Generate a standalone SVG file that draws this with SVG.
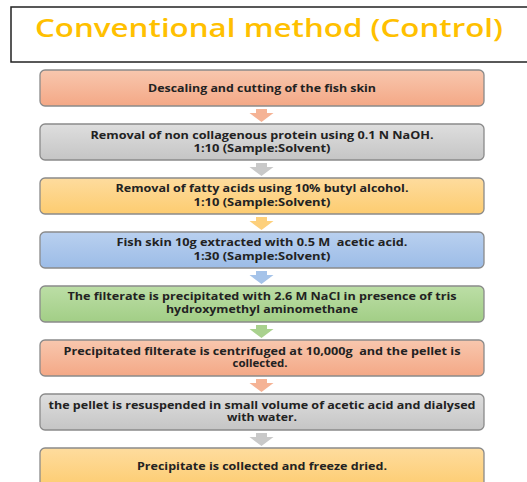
<svg xmlns="http://www.w3.org/2000/svg" width="527" height="482" viewBox="0 0 527 482">
  <defs>
    <linearGradient id="gSalmon" x1="0" y1="0" x2="0" y2="1">
      <stop offset="0" stop-color="#f8c7ae"/>
      <stop offset="1" stop-color="#f4a886"/>
    </linearGradient>
    <linearGradient id="gGray" x1="0" y1="0" x2="0" y2="1">
      <stop offset="0" stop-color="#dedede"/>
      <stop offset="1" stop-color="#c5c5c5"/>
    </linearGradient>
    <linearGradient id="gYellow" x1="0" y1="0" x2="0" y2="1">
      <stop offset="0" stop-color="#fedc9e"/>
      <stop offset="1" stop-color="#fdcc70"/>
    </linearGradient>
    <linearGradient id="gBlue" x1="0" y1="0" x2="0" y2="1">
      <stop offset="0" stop-color="#b9d0ef"/>
      <stop offset="1" stop-color="#9cbce7"/>
    </linearGradient>
    <linearGradient id="gGreen" x1="0" y1="0" x2="0" y2="1">
      <stop offset="0" stop-color="#bcdea6"/>
      <stop offset="1" stop-color="#a2ce86"/>
    </linearGradient>
    <path id="arrow" d="M-5.5,0 H5.5 V4 H12 L0,13 L-12,4 H-5.5 Z"/>
  </defs>
  <style>
    .box { stroke: #8a8a8a; stroke-width: 1.3; }
    .t { font-family: "Open Sans", "Liberation Sans", sans-serif; font-size: 10px; font-weight: 700; fill: #222222; text-anchor: middle; }
    .title { font-family: "Open Sans", "Liberation Sans", sans-serif; font-size: 25px; font-weight: 600; fill: #ffc000; text-anchor: middle; }
  </style>
  <rect width="527" height="482" fill="#ffffff"/>

  <g id="title">
    <rect x="11" y="7" width="530" height="55" fill="#ffffff" stroke="#222222" stroke-width="1.5"/>
    <text class="title" x="269" y="37" textLength="468" lengthAdjust="spacingAndGlyphs">Conventional method (Control)</text>
  </g>

  <g id="connectors">
    <use href="#arrow" x="261.5" y="109" fill="#f5b395"/>
    <use href="#arrow" x="261.5" y="163" fill="#c9c9c9"/>
    <use href="#arrow" x="261.5" y="217" fill="#fdd07c"/>
    <use href="#arrow" x="261.5" y="271" fill="#a5c3e9"/>
    <use href="#arrow" x="261.5" y="325" fill="#a9d18e"/>
    <use href="#arrow" x="261.5" y="379" fill="#f5b395"/>
    <use href="#arrow" x="261.5" y="433" fill="#c9c9c9"/>
  </g>

  <g id="node1">
    <rect class="box" x="40" y="70" width="444" height="36" rx="5" fill="url(#gSalmon)"/>
    <text class="t" x="262" y="92" textLength="228" lengthAdjust="spacingAndGlyphs">Descaling and cutting of the fish skin</text>
  </g>
  <g id="node2">
    <rect class="box" x="40" y="124" width="444" height="36" rx="5" fill="url(#gGray)"/>
    <text class="t" x="262" y="139" textLength="343" lengthAdjust="spacingAndGlyphs">Removal of non collagenous protein using 0.1 N NaOH.</text>
    <text class="t" x="262" y="152" textLength="137" lengthAdjust="spacingAndGlyphs">1:10 (Sample:Solvent)</text>
  </g>
  <g id="node3">
    <rect class="box" x="40" y="178" width="444" height="36" rx="5" fill="url(#gYellow)"/>
    <text class="t" x="262" y="192" textLength="293" lengthAdjust="spacingAndGlyphs">Removal of fatty acids using 10% butyl alcohol.</text>
    <text class="t" x="262" y="206" textLength="137" lengthAdjust="spacingAndGlyphs">1:10 (Sample:Solvent)</text>
  </g>
  <g id="node4">
    <rect class="box" x="40" y="232" width="444" height="36" rx="5" fill="url(#gBlue)"/>
    <text class="t" x="262" y="246" textLength="291" lengthAdjust="spacingAndGlyphs" xml:space="preserve">Fish skin 10g extracted with 0.5 M  acetic acid.</text>
    <text class="t" x="262" y="260" textLength="137" lengthAdjust="spacingAndGlyphs">1:30 (Sample:Solvent)</text>
  </g>
  <g id="node5">
    <rect class="box" x="40" y="286" width="444" height="36" rx="5" fill="url(#gGreen)"/>
    <text class="t" x="262" y="300" textLength="389" lengthAdjust="spacingAndGlyphs">The filterate is precipitated with 2.6 M NaCl in presence of tris</text>
    <text class="t" x="262" y="312.5" textLength="192" lengthAdjust="spacingAndGlyphs">hydroxymethyl aminomethane</text>
  </g>
  <g id="node6">
    <rect class="box" x="40" y="340" width="444" height="36" rx="5" fill="url(#gSalmon)"/>
    <text class="t" x="262" y="354.5" textLength="397" lengthAdjust="spacingAndGlyphs" xml:space="preserve">Precipitated filterate is centrifuged at 10,000g  and the pellet is</text>
    <text class="t" x="260" y="367" textLength="55" lengthAdjust="spacingAndGlyphs">collected.</text>
  </g>
  <g id="node7">
    <rect class="box" x="40" y="394" width="444" height="36" rx="5" fill="url(#gGray)"/>
    <text class="t" x="262" y="408.5" textLength="427" lengthAdjust="spacingAndGlyphs">the pellet is resuspended in small volume of acetic acid and dialysed</text>
    <text class="t" x="262" y="421" textLength="70" lengthAdjust="spacingAndGlyphs">with water.</text>
  </g>
  <g id="node8">
    <rect class="box" x="40" y="448" width="444" height="40" rx="5" fill="url(#gYellow)"/>
    <text class="t" x="262" y="470" textLength="250" lengthAdjust="spacingAndGlyphs">Precipitate is collected and freeze dried.</text>
  </g>
</svg>
